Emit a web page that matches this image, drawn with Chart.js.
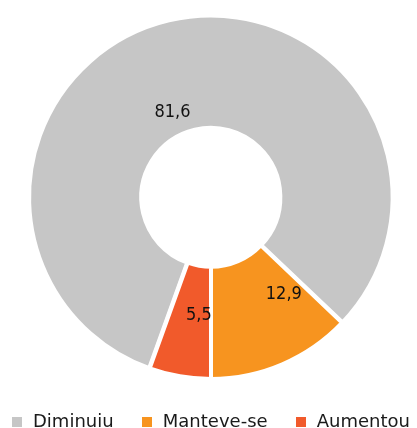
<!DOCTYPE html>
<html>
<head>
<meta charset="utf-8">
<script src="https://cdn.jsdelivr.net/npm/chart.js@4"></script>
<style>
    html, body { margin: 0; padding: 0; background: #fff; }
    #wrap { position: relative; width: 417px; height: 428px; }
    #legend {
        position: absolute; left: 12px; top: 410px; width: 398px;
        display: flex; justify-content: space-between;
        font: 18px "DejaVu Sans", Verdana, sans-serif; line-height: 21px;
        color: #1a1a1a; white-space: nowrap;
    }
    .swatch { display: inline-block; width: 10px; height: 10px; margin-right: 11px; }
</style>
</head>
<body>
<div id="wrap">
    <canvas id="donutChart"></canvas>
    <div id="legend"></div>
</div>
<script>
const categories = ["Diminuiu", "Manteve-se", "Aumentou"];
const values = [81.6, 12.9, 5.5];
const valueLabels = ["81,6", "12,9", "5,5"];
const colors = ["#c6c6c6", "#f7941f", "#f15a2b"];

// draws the value inside each slice
const valueLabelPlugin = {
    id: "valueLabels",
    afterDatasetsDraw(chart, args, opts) {
        const ctx = chart.ctx;
        const meta = chart.getDatasetMeta(0);
        ctx.save();
        ctx.font = opts.font;
        ctx.fillStyle = opts.color;
        ctx.textAlign = "center";
        ctx.textBaseline = "middle";
        meta.data.forEach((arc, i) => {
            const p = arc.getProps(["x", "y", "startAngle", "endAngle", "innerRadius", "outerRadius"], true);
            const place = opts.place[i] || { angle: 0, r: 0.5 };
            const mid = (p.startAngle + p.endAngle) / 2 + place.angle * Math.PI / 180;
            const r = p.innerRadius + (p.outerRadius - p.innerRadius) * place.r;
            ctx.fillText(valueLabels[i], p.x + Math.cos(mid) * r, p.y + Math.sin(mid) * r);
        });
        ctx.restore();
    }
};

const chart = new Chart(document.getElementById("donutChart"), {
    type: "doughnut",
    data: {
        labels: categories,
        datasets: [{
            data: values,
            backgroundColor: colors,
            borderColor: "#ffffff",
            borderWidth: 4,
            offset: [3, 0, 0]
        }]
    },
    options: {
        responsive: true,
        maintainAspectRatio: false,
        animation: false,
        rotation: 199.8,
        cutout: "38%",
        radius: 181,
        layout: { padding: { left: 5, right: 0, top: 0, bottom: 32 } },
        plugins: {
            legend: { display: false },
            tooltip: { enabled: false },
            valueLabels: {
                font: '18px "DejaVu Sans Condensed", "DejaVu Sans", sans-serif',
                color: "#111",
                place: [{ angle: -11, r: 0.22 }, { angle: -14, r: 0.46 }, { angle: -4, r: 0.44 }]
            }
        }
    },
    plugins: [valueLabelPlugin]
});

// html legend, spread across the bottom like the original
const legend = document.getElementById("legend");
categories.forEach((name, i) => {
    const item = document.createElement("span");
    item.innerHTML = `<span class="swatch" style="background:${colors[i]}"></span>${name}`;
    legend.appendChild(item);
});
</script>
</body>
</html>
